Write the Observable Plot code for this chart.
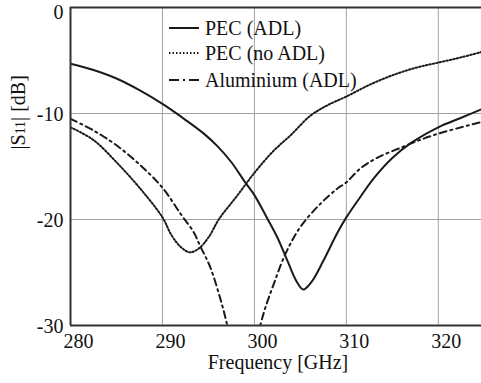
<!DOCTYPE html>
<html>
<head>
<meta charset="utf-8">
<script src="https://cdn.jsdelivr.net/npm/d3@7"></script>
<script src="https://cdn.jsdelivr.net/npm/@observablehq/plot@0.6"></script>
<style>
  html, body { margin: 0; padding: 0; background: white; }
  #wrap { position: relative; width: 481px; height: 383px; font-family: "Liberation Serif", "Tinos", "Times New Roman", "DejaVu Serif", serif; color: #111; }
  .legend { position: absolute; left: 168px; top: 15px; font-size: 20px; }
  .row { position: absolute; left: 0; height: 26px; line-height: 26px; white-space: nowrap; display: flex; align-items: center; }
  .row svg { margin-right: 5px; }
</style>
</head>
<body>
<div id="wrap"></div>
<script>
// ---- data ----
const xTicks = [280, 290, 300, 310, 320];
const yTicks = [-30, -20, -10, 0];
const xLabel = "Frequency [GHz]";
const yLabel = "|S11| [dB]";
const seriesNames = ["PEC (ADL)", "PEC (no ADL)", "Aluminium (ADL)"];

const freqPecAdl = [280, 282.5, 285, 287.5, 290, 292.5, 294.5, 296, 297.5, 299, 300, 301.4, 302.5, 303.6, 304.5, 305.3, 306.2, 307.5, 309, 310, 311.5, 313, 315, 317, 320, 322.5, 324.7];
const s11PecAdl  = [-5.3, -5.9, -6.7, -7.8, -9.1, -10.6, -11.9, -13.1, -14.6, -16.5, -17.7, -19.9, -21.7, -23.9, -25.7, -26.6, -25.9, -23.9, -21.3, -19.8, -17.9, -16.1, -14.2, -12.8, -11.3, -10.4, -9.6];

const freqPecNoAdl = [280, 282.5, 285, 287.5, 290, 291, 292, 293, 294, 295, 296.2, 298, 300, 302, 304, 306.1, 308, 310, 312.5, 315, 317.5, 320, 322.5, 324.7];
const s11PecNoAdl  = [-11.3, -12.5, -14.6, -17.0, -19.8, -21.5, -22.6, -23.1, -22.7, -21.7, -19.9, -17.9, -15.6, -13.6, -12.0, -10.2, -9.2, -8.4, -7.3, -6.4, -5.7, -5.2, -4.7, -4.2];

const freqAlu = [280, 282.5, 285, 287.5, 290, 292, 293.4, 294.1, 295.2, 296.5, 297, 298, 299, 300, 300.7, 301.2, 302.1, 303.4, 305, 307.2, 309, 310, 311.5, 313.3, 316, 318, 320, 322.5, 324.7];
const s11Alu  = [-10.5, -11.6, -13.0, -14.8, -17.0, -19.5, -21.2, -22.5, -24.5, -28.1, -29.8, -33.2, -36.0, -32.2, -29.8, -28.3, -26.1, -23.2, -20.7, -18.5, -17.1, -16.5, -15.2, -14.2, -13.2, -12.5, -11.9, -11.3, -10.8];

const toRows = (fs, ss) => fs.map((f, i) => ({f, s: ss[i]}));
const pecAdl = toRows(freqPecAdl, s11PecAdl);
const pecNoAdl = toRows(freqPecNoAdl, s11PecNoAdl);
const alu = toRows(freqAlu, s11Alu);

const ink = "#1a1a1a";
const gridColor = "#a3a3a3";
const fontStack = "'Liberation Serif', Tinos, 'Times New Roman', 'DejaVu Serif', serif";
const styles = [
  {strokeWidth: 2, strokeDasharray: null},
  {strokeWidth: 2, strokeDasharray: "1.5,2"},
  {strokeWidth: 2, strokeDasharray: "7,4,2,4"}
];

const chart = Plot.plot({
  width: 481,
  height: 383,
  marginLeft: 70,
  marginRight: 0,
  marginTop: 7,
  marginBottom: 58,
  style: {fontFamily: fontStack, fontSize: "20px", color: "#111", background: "white", overflow: "visible"},
  x: {domain: [280, 324.7]},
  y: {domain: [-30, 0]},
  marks: [
    Plot.gridX(xTicks.slice(1), {stroke: gridColor, strokeOpacity: 1, strokeWidth: 1}),
    Plot.gridY(yTicks.slice(1, 3), {stroke: gridColor, strokeOpacity: 1, strokeWidth: 1}),
    Plot.line(pecAdl, {x: "f", y: "s", curve: "catmull-rom", stroke: ink, strokeWidth: styles[0].strokeWidth, clip: true}),
    Plot.line(pecNoAdl, {x: "f", y: "s", curve: "catmull-rom", stroke: ink, strokeWidth: styles[1].strokeWidth, strokeDasharray: styles[1].strokeDasharray, clip: true}),
    Plot.line(alu, {x: "f", y: "s", curve: "catmull-rom", stroke: ink, strokeWidth: styles[2].strokeWidth, strokeDasharray: styles[2].strokeDasharray, clip: true}),
    Plot.ruleY([yTicks[0], yTicks[yTicks.length - 1]], {stroke: "#333", strokeWidth: 2.2}),
    Plot.ruleX([xTicks[0]], {stroke: "#333", strokeWidth: 2}),
    Plot.axisX({ticks: xTicks, tickSize: 0, tickPadding: 8, dx: 8, label: null, fontSize: 20, fontFamily: fontStack}),
    Plot.axisY({ticks: yTicks.slice(0, 3), tickSize: 0, tickPadding: 7, dy: 1, label: null, fontSize: 20, fontFamily: fontStack, tickFormat: d => String(d)}),
    Plot.axisY({ticks: yTicks.slice(3), tickSize: 0, tickPadding: 7, dy: 5, label: null, fontSize: 20, fontFamily: fontStack, tickFormat: d => String(d)}),
    Plot.text([yLabel], {text: d => d, frameAnchor: "left", dx: -52, dy: -17, rotate: -90, fontSize: 20, fontFamily: fontStack, fill: "#111"}),
    Plot.text([xLabel], {text: d => d, frameAnchor: "bottom", dx: 2, dy: 43, fontSize: 20, fontFamily: fontStack, fill: "#111"})
  ]
});

// small "11" in the y label
d3.select(chart).selectAll("text").each(function() {
  if (this.textContent === yLabel) {
    const t = d3.select(this);
    t.text(null);
    t.append("tspan").text("|S");
    t.append("tspan").attr("font-size", 14).text("11");
    t.append("tspan").text("| [dB]");
  }
});

const wrap = document.getElementById("wrap");
wrap.appendChild(chart);

// legend
const legend = document.createElement("div");
legend.className = "legend";
const rowTops = [0, 25, 52];
seriesNames.forEach((name, i) => {
  const row = document.createElement("div");
  row.className = "row";
  row.style.top = rowTops[i] + "px";
  const da = i === 2 ? "10,4,2,4,10" : (styles[i].strokeDasharray || "");
  row.innerHTML = `<svg width="32" height="10"><line x1="1" x2="31" y1="5" y2="5" stroke="${ink}" stroke-width="${styles[i].strokeWidth}" ${da ? `stroke-dasharray="${da}"` : ""}/></svg><span>${name}</span>`;
  legend.appendChild(row);
});
wrap.appendChild(legend);
</script>
</body>
</html>
